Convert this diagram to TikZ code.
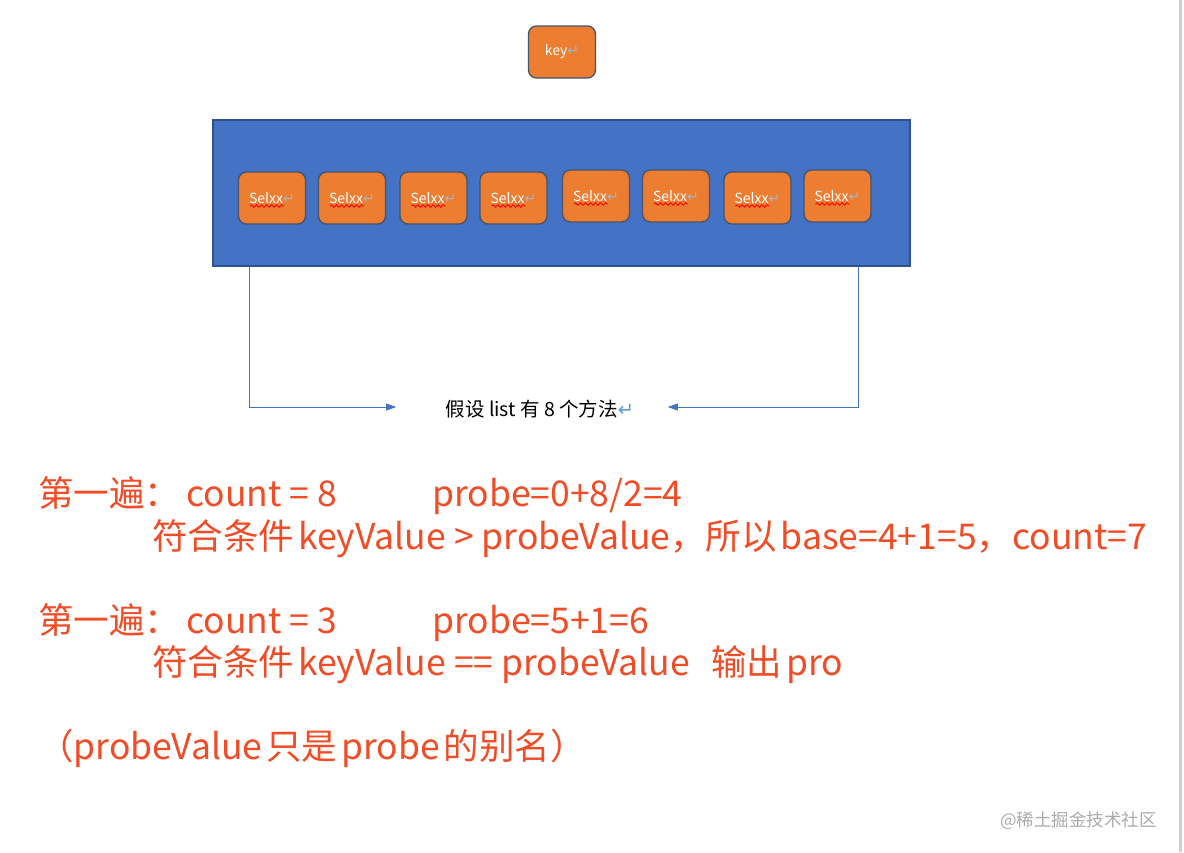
\documentclass[tikz,border=0pt]{standalone}
\usepackage{fontspec}
\setmainfont{Noto Sans CJK SC}
\newfontfamily\symfont{DejaVu Sans}
\usetikzlibrary{arrows.meta,decorations.pathmorphing}
\definecolor{listblue}{HTML}{4472C4}
\definecolor{listedge}{HTML}{2F528F}
\definecolor{boxorange}{HTML}{ED7D31}
\definecolor{boxedge}{HTML}{44546A}
\definecolor{notered}{HTML}{F24C27}
\definecolor{retgrey}{HTML}{A7B4C4}
\definecolor{retblue}{HTML}{5B9BD5}
\definecolor{markgrey}{HTML}{ABABAB}
\definecolor{pagegrey}{HTML}{CFCFCF}
\newcommand{\retmark}[1][retgrey]{{\symfont\textcolor{#1}{↵}}}
\newcommand{\gap}{\hspace{4pt}}
\tikzset{
  methodbox/.style={draw=boxedge, fill=boxorange, line width=1.3pt, rounded corners=8pt,
    minimum width=67pt, minimum height=52pt, inner sep=0pt, text=white,
    font=\fontsize{14}{14}\selectfont},
  conn/.style={draw=listblue, line width=0.8pt, -{Triangle[length=10pt,width=7pt]}},
  note/.style={anchor=base west, inner sep=0pt, text=notered, font=\fontsize{35.5}{35.5}\selectfont},
  wavy/.style={draw=red, line width=0.9pt, decorate,
    decoration={snake, amplitude=1.2pt, segment length=5pt}},
}
\begin{document}
\begin{tikzpicture}[x=1pt,y=-1pt]
    \useasboundingbox (0,0) rectangle (1184,852);
    \fill [white] (0,0) rectangle (1184,852);
    \draw [pagegrey, line width=2.5pt] (1180.5,0) -- (1180.5,852);
    % key
    \node [methodbox] (key) at (562,52) {key\retmark};
    % list of methods
    \node [draw=listedge, fill=listblue, line width=1.2pt, minimum width=697pt,
      minimum height=146pt, inner sep=0pt] (list) at (561.5,193) {};
    \node [methodbox] (s1) at (272,198) {Selxx\retmark};
    \node [methodbox] (s2) at (352,198) {Selxx\retmark};
    \node [methodbox] (s3) at (433.5,198) {Selxx\retmark};
    \node [methodbox] (s4) at (513.5,198) {Selxx\retmark};
    \node [methodbox] (s5) at (596,196) {Selxx\retmark};
    \node [methodbox] (s6) at (676,196) {Selxx\retmark};
    \node [methodbox] (s7) at (757.5,198) {Selxx\retmark};
    \node [methodbox] (s8) at (837.5,196) {Selxx\retmark};
    \foreach \n in {1,...,8}
      \draw [wavy] ([xshift=-22pt,yshift=-8pt]s\n.center) -- ++(34,0);
    % lecture
    \node [font=\fontsize{19.5}{19.5}\selectfont] (lbl) at (540,409) {假设 list 有 8 个方法\retmark[retblue]};
    \coordinate (ltop) at (249,266);
    \coordinate (rtop) at (858,266);
    \draw [conn] (ltop) |- ([xshift=-46pt,yshift=2pt]lbl.west);
    \draw [conn] (rtop) |- ([xshift=30pt,yshift=2pt]lbl.east);
    % notes
    \node [note] (n1) at (38,506) {第一遍：\hspace{6pt}count = 8};
    \node [note] (n1b) at (432,506) {probe=0+8/2=4};
    \node [note] (n2) at (152,549) {符合条件\gap keyValue > probeValue，所以\gap base=4+1=5，count=7};
    \node [note] (n3) at (38,633) {第一遍：\hspace{6pt}count = 3};
    \node [note] (n3b) at (432,633) {probe=5+1=6};
    \node [note] (n4) at (152,675) {符合条件\gap keyValue == probeValue};
    \node [note] (n4b) at (711,675) {输出\gap pro};
    \node [note] (n5) at (38,759) {（probeValue\gap 只是\gap probe\gap 的别名）};
    \node [anchor=base west, inner sep=0pt, text=markgrey, font=\fontsize{17.5}{17.5}\selectfont]
      (mark) at (1000,826) {@稀土掘金技术社区};
\end{tikzpicture}
\end{document}
